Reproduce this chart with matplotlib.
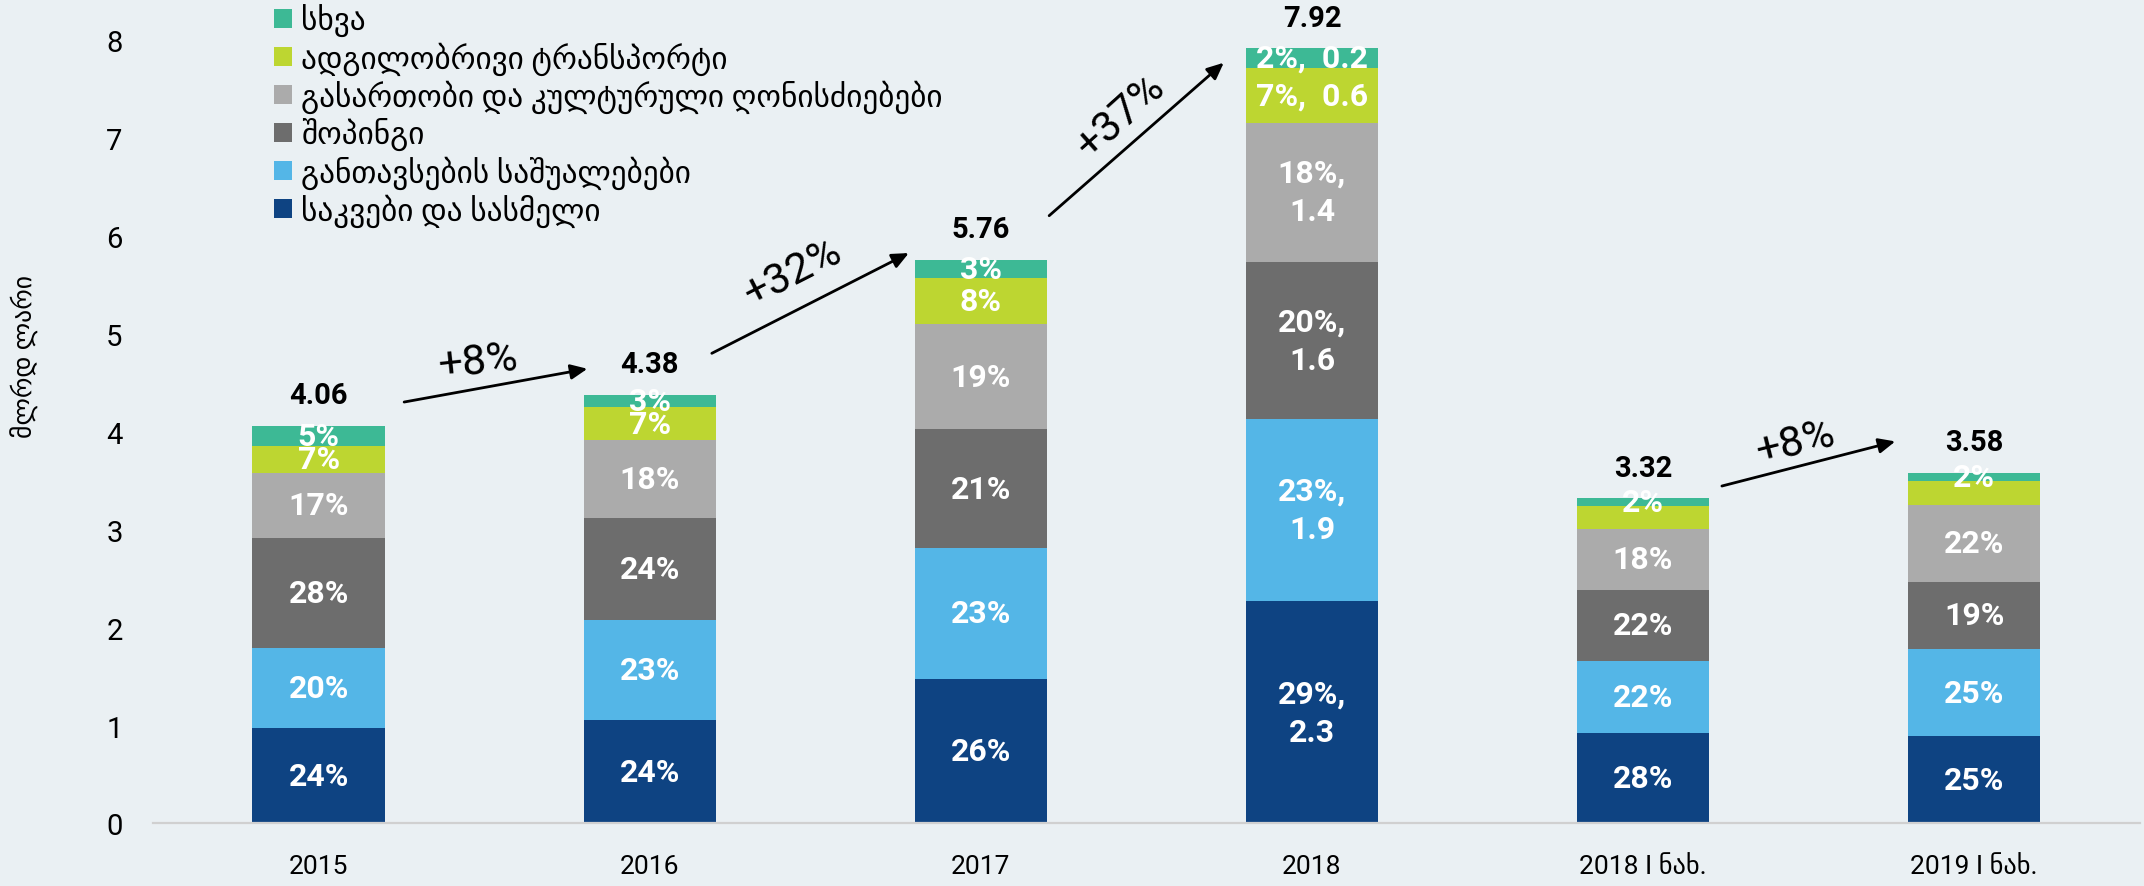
import matplotlib
matplotlib.use('Agg')
import matplotlib.pyplot as plt
import numpy as np

plt.rcParams['font.family'] = ['Roboto', 'DejaVu Sans']

# data, bln GEL
categories = ['2015', '2016', '2017', '2018', '2018 I ნახ.', '2019 I ნახ.']
totals = [4.06, 4.38, 5.76, 7.92, 3.32, 3.58]

series_names = ['საკვები და სასმელი', 'განთავსების საშუალებები', 'შოპინგი',
                'გასართობი და კულტურული ღონისძიებები', 'ადგილობრივი ტრანსპორტი', 'სხვა']
food = [0.98, 1.06, 1.48, 2.27, 0.92, 0.89]
accommodation = [0.81, 1.02, 1.33, 1.86, 0.74, 0.89]
shopping = [1.13, 1.04, 1.22, 1.61, 0.73, 0.69]
entertainment = [0.66, 0.80, 1.07, 1.42, 0.62, 0.78]
transport = [0.28, 0.33, 0.47, 0.56, 0.23, 0.25]
other = [0.20, 0.13, 0.19, 0.20, 0.08, 0.08]

food_labels = ['24%', '24%', '26%', '29%,\n2.3', '28%', '25%']
accommodation_labels = ['20%', '23%', '23%', '23%,\n1.9', '22%', '25%']
shopping_labels = ['28%', '24%', '21%', '20%,\n1.6', '22%', '19%']
entertainment_labels = ['17%', '18%', '19%', '18%,\n1.4', '18%', '22%']
transport_labels = ['7%', '7%', '8%', '7%,  0.6', '', '']
other_labels = ['5%', '3%', '3%', '2%,  0.2', '2%', '2%']

growth_labels = ['+8%', '+32%', '+37%', '+8%']

COLORS = ['#0E4382', '#54B6E7', '#6D6D6D', '#ABABAB', '#BDD631', '#3DB995']
BG = '#EAF0F3'

# arrow layout: (x0, y0, x1, y1, text x, text y, rotation)
arrows = [
    (0.25, 4.30, 0.82, 4.65, 0.48, 4.72, 6),
    (1.18, 4.79, 1.79, 5.84, 1.43, 5.63, 27),
    (2.20, 6.19, 2.74, 7.79, 2.42, 7.23, 42),
    (4.23, 3.44, 4.77, 3.91, 4.46, 3.90, 14),
]

fig = plt.figure(figsize=(21.44, 8.87), dpi=100, facecolor=BG)
ax = fig.add_axes([0.0714, 0.0705, 0.9266, 0.916])
ax.set_facecolor(BG)

x = np.arange(len(categories))
series = [food, accommodation, shopping, entertainment, transport, other]
labels = [food_labels, accommodation_labels, shopping_labels,
          entertainment_labels, transport_labels, other_labels]

bottom = np.zeros(len(categories))
handles = []
for vals, labs, name, color in zip(series, labels, series_names, COLORS):
    vals = np.array(vals)
    bars = ax.bar(x, vals, width=0.4, bottom=bottom, color=color, label=name)
    handles.append(bars)
    for xi, b, v, lab in zip(x, bottom, vals, labs):
        if lab:
            ax.text(xi, b + v / 2, lab, ha='center', va='center', color='white',
                    fontsize=23, fontweight='bold', linespacing=1.35)
    bottom += vals

for xi, t in zip(x, totals):
    ax.annotate(f'{t:.2f}', (xi, t), xytext=(0, 22), textcoords='offset points',
                ha='center', va='center', fontsize=21, fontweight='bold', color='black')

for (x0, y0, x1, y1, tx, ty, rot), lab in zip(arrows, growth_labels):
    ax.annotate('', xy=(x1, y1), xytext=(x0, y0),
                arrowprops=dict(arrowstyle='-|>,head_length=1.0,head_width=0.45',
                                color='black', lw=2))
    ax.text(tx, ty, lab, ha='center', va='center', fontsize=31, rotation=rot)

ax.set_xlim(-0.5, 5.5)
ax.set_ylim(0, 8.3)
ax.set_yticks(range(9))
ax.set_xticks(x)
ax.set_xticklabels(categories)
ax.tick_params(axis='y', length=0, labelsize=21, pad=22)
ax.tick_params(axis='x', length=0, labelsize=19, pad=22)
for s in ['top', 'right', 'left']:
    ax.spines[s].set_visible(False)
ax.spines['bottom'].set_color('#D0D0D0')
ax.spines['bottom'].set_linewidth(1.6)

fig.text(25 / 2144, 1 - 356 / 887, 'მლრდ ლარი', rotation=90, ha='center',
         va='center', fontsize=18.5)

fig.legend(handles[::-1], series_names[::-1], loc='upper left',
           bbox_to_anchor=(0.1278, 0.995), frameon=False, fontsize=22.5,
           handlelength=0.58, handleheight=0.58, handletextpad=0.29,
           labelspacing=0.15, borderpad=0.0, borderaxespad=0.0)

fig.savefig('out.png', dpi=100, facecolor=BG)
